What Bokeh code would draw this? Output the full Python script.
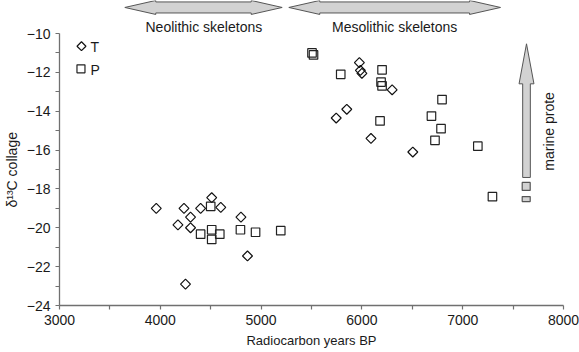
import math
from bokeh.plotting import figure
from bokeh.models import Range1d, FixedTicker, Label, Title
from bokeh.embed import file_html
from bokeh.resources import INLINE

# ---- data ----
t_years = [3960, 4235, 4400, 4510, 4600, 4300, 4175, 4300, 4800, 4865, 4250,
           5975, 5985, 6000, 6300, 5850, 5745, 6090, 6505]
t_d13c = [-19.0, -19.0, -19.0, -18.45, -18.95, -19.45, -19.85, -20.0, -19.45, -21.45, -22.9,
          -11.5, -11.9, -12.05, -12.9, -13.9, -14.35, -15.4, -16.1]

p_years = [4500, 4400, 4510, 4510, 4590, 4795, 4945, 5195,
           5505, 5520, 5790, 6200, 6190, 6200, 6180, 6795, 6690, 6785, 6725, 7150, 7295]
p_d13c = [-18.9, -20.33, -20.1, -20.6, -20.33, -20.1, -20.23, -20.15,
          -11.0, -11.1, -12.1, -11.87, -12.5, -12.7, -14.5, -13.4, -14.25, -14.9, -15.5, -15.8, -18.4]

marine_years = [7630, 7630]
marine_d13c = [-17.87, -18.52]

x_ticks = [3000, 4000, 5000, 6000, 7000, 8000]
x_minor = [3500, 4500, 5500, 6500, 7500]
y_ticks = [-24, -22, -20, -18, -16, -14, -12, -10]
y_minor = [-23, -21, -19, -17, -15, -13, -11]

# legend keys (inside the plot area)
legend_labels = ["T", "P"]
legend_key_x = [3218, 3213]
legend_key_y = [-10.655, -11.82]
legend_text_x = 3307
legend_text_y = [-10.72, -11.86]

# period arrows (data extents)
neo_span = (3648, 5209)
meso_span = (5275, 7375)
arrow_y = -8.659
marine_arrow = dict(x=7633, tip=-10.53, head_base=-12.59, bottom=-17.41)

FONT = "Liberation Sans"
TXT = "#1a1a1a"
AX = "#707070"

p = figure(frame_width=504, frame_height=305,
           min_border_left=59, min_border_right=16, min_border_top=0, min_border_bottom=47,
           x_range=Range1d(3000, 8000), y_range=Range1d(-24, -8.301),
           output_backend="svg", toolbar_location=None,
           background_fill_color="white", border_fill_color="white")
p.outline_line_color = None
p.grid.visible = False

# axes
for ax in (p.xaxis[0], p.yaxis[0]):
    ax.axis_line_color = AX
    ax.axis_line_width = 1.3
    ax.major_tick_line_color = AX
    ax.minor_tick_line_color = AX
    ax.major_tick_line_width = 1.2
    ax.minor_tick_line_width = 1.2
    ax.major_tick_in = 0
    ax.major_tick_out = 4
    ax.minor_tick_in = 0
    ax.minor_tick_out = 4
    ax.major_label_text_font = FONT
    ax.major_label_text_font_size = "14px"
    ax.major_label_text_color = TXT
    ax.major_label_standoff = 5

p.xaxis[0].ticker = FixedTicker(ticks=x_ticks, minor_ticks=x_minor)
p.xaxis[0].bounds = (x_ticks[0], x_ticks[-1])
p.xaxis[0].axis_label = "Radiocarbon years BP"
p.xaxis[0].axis_label_text_font = FONT
p.xaxis[0].axis_label_text_font_size = "13px"
p.xaxis[0].axis_label_text_font_style = "normal"
p.xaxis[0].axis_label_text_color = TXT
p.xaxis[0].axis_label_standoff = 5

p.yaxis[0].ticker = FixedTicker(ticks=y_ticks, minor_ticks=y_minor)
p.yaxis[0].bounds = (y_ticks[0], y_ticks[-1])
p.yaxis[0].major_label_overrides = {t: "\u2212" + str(abs(t)) for t in y_ticks}

ytitle = Title(text="\u03b4\u00b9\u00b3C collage", align="left", offset=98,
               vertical_align="top", standoff=4, text_font=FONT, text_font_size="14px",
               text_font_style="normal", text_color=TXT)
p.add_layout(ytitle, "left")

# arrows
def hdouble(x0, x1, yc, hl=307, sh=0.284, hh=0.36):
    xs = [x0, x0 + hl, x0 + hl, x1 - hl, x1 - hl, x1, x1 - hl, x1 - hl, x0 + hl, x0 + hl]
    ys = [yc, yc + hh, yc + sh, yc + sh, yc + hh, yc, yc - hh, yc - sh, yc - sh, yc - hh]
    return xs, ys

ARROW_FILL = "#d2d2d2"
ARROW_LINE = "#555555"
for span in (neo_span, meso_span):
    xs, ys = hdouble(span[0], span[1], arrow_y)
    p.patch(xs, ys, fill_color=ARROW_FILL, line_color=ARROW_LINE, line_width=1)

m = marine_arrow
sw, hw = 38, 74
p.patch([m["x"], m["x"] + hw, m["x"] + sw, m["x"] + sw, m["x"] - sw, m["x"] - sw, m["x"] - hw],
        [m["tip"], m["head_base"], m["head_base"], m["bottom"], m["bottom"], m["head_base"], m["head_base"]],
        fill_color=ARROW_FILL, line_color=ARROW_LINE, line_width=1)

p.rect(x=marine_years, y=marine_d13c, width=8, height=[8, 5],
       width_units="screen", height_units="screen",
       fill_color=ARROW_FILL, line_color=ARROW_LINE, line_width=1.2)

# data
p.scatter(t_years, t_d13c, marker="square", angle=math.pi / 4, size=7,
          fill_color="white", fill_alpha=0, line_color="#111111", line_width=1.2)
p.scatter(p_years, p_d13c, marker="square", size=8.5,
          fill_color="white", fill_alpha=0, line_color="#222222", line_width=1.2)

# legend (T = diamond, P = square)
p.scatter(legend_key_x[:1], legend_key_y[:1], marker="square", angle=math.pi / 4, size=6.3,
          fill_alpha=0, line_color="#111111", line_width=1.2)
p.scatter(legend_key_x[1:], legend_key_y[1:], marker="square", size=8,
          fill_alpha=0, line_color="#222222", line_width=1.2)

def lab(x, y, text, size="14px", **kw):
    p.add_layout(Label(x=x, y=y, text=text, text_font=FONT, text_font_size=size,
                       text_color=TXT, **kw))

for txt, ty in zip(legend_labels, legend_text_y):
    lab(legend_text_x, ty, txt, text_align="left", text_baseline="alphabetic")

lab(4432, -9.67, "Neolithic skeletons", text_align="center", text_baseline="alphabetic")
lab(6325, -9.67, "Mesolithic skeletons", text_align="center", text_baseline="alphabetic")
lab(7858, -15.04, "marine prote", text_align="center", text_baseline="alphabetic",
    angle=math.pi / 2)

open("out.html", "w").write(file_html(p, INLINE))
